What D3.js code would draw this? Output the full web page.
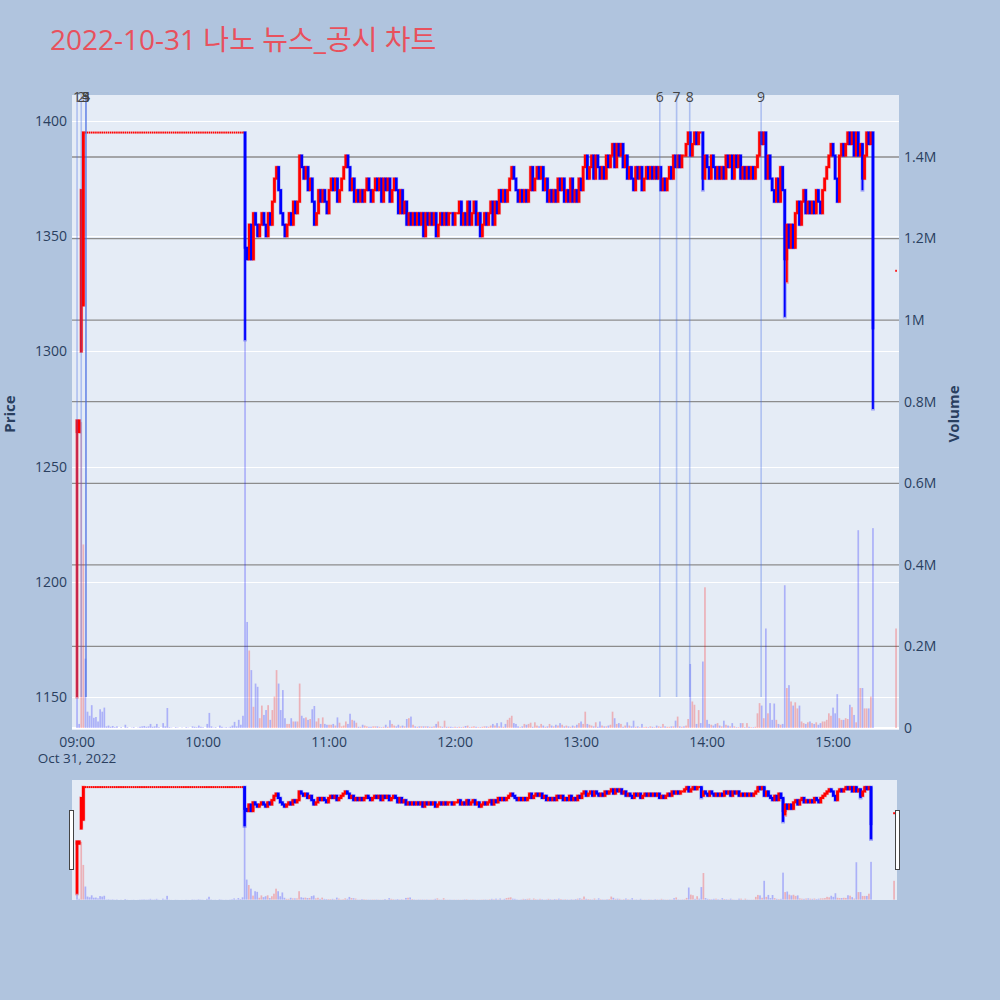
<!DOCTYPE html>
<html><head><meta charset="utf-8">
<script src="https://cdn.jsdelivr.net/npm/d3@7"></script>
<style>
body{margin:0;background:#b0c4de;}
svg{display:block;font-family:"Open Sans","Noto Sans CJK KR",sans-serif;}
</style>
</head><body>
<svg id="chart" width="1000" height="1000"></svg>
<script>
// ---------------- DATA ----------------
const chartTitle = "2022-10-31 나노 뉴스_공시 차트";
const sessionDate = [2022, 9, 31]; // Oct 31, 2022, minute bars from 09:00
// closes per minute (index = minutes after 09:00); null = no trade
const closes = [
1270,1270,1370,1395,
1395,1395,1395,1395,1395,1395,1395,1395,1395,1395,1395,1395,1395,1395,1395,1395,1395,1395,1395,
1395,1395,1395,1395,1395,1395,1395,1395,1395,1395,1395,1395,1395,1395,1395,1395,1395,1395,1395,
1395,1395,1395,1395,1395,1395,1395,1395,1395,1395,1395,1395,1395,1395,1395,1395,1395,1395,1395,
1395,1395,1395,1395,1395,1395,1395,1395,1395,1395,1395,1395,1395,1395,1395,1395,1395,1395,1395,
1345,
1340,1355,1340,1360,1355,1350,1355,1360,1355,1350,
1360,1355,1365,1375,1380,1370,1360,1355,1350,1355,
1360,1355,1365,1360,1365,1385,1380,1375,1380,1370,
1375,1365,1355,1360,1370,1365,1370,1365,1360,1370,
1375,1370,1375,1365,1370,1375,1380,1385,1380,1370,
1375,1365,1370,1365,1370,1365,1370,1375,1370,1365,
1370,1375,1370,1375,1365,1375,1370,1375,1365,1370,
1375,1370,1360,1370,1360,1365,1355,1360,1355,1360,
1355,1360,1355,1360,1350,1360,1355,1360,1355,1360,
1350,1355,1360,1355,1360,1355,1360,1360,1355,1360,
1360,1365,1355,1360,1355,1365,1355,1360,1365,1355,
1360,1350,1355,1360,1355,1360,1365,1355,1365,1360,
1370,1365,1370,1365,1370,1375,1380,1375,1370,1365,
1370,1365,1370,1365,1370,1380,1370,1375,1380,1375,
1380,1370,1375,1365,1370,1365,1370,1365,1375,1370,
1375,1365,1370,1365,1375,1365,1370,1365,1375,1370,
1380,1385,1375,1380,1385,1375,1385,1380,1375,1380,
1375,1385,1380,1385,1390,1380,1390,1385,1390,1380,
1385,1375,1380,1375,1370,1380,1375,1380,1370,1375,
1380,1375,1380,1375,1380,1375,1380,1370,1375,1370,
1375,1380,1375,1385,1380,1385,1380,1385,1385,1390,
1395,1385,1390,1395,1390,1395,1395,1375,1385,1380,
1375,1385,1380,1375,1380,1375,1380,1375,1385,1380,
1385,1375,1385,1380,1385,1375,1380,1375,1380,1375,
1380,1375,1380,1385,1395,1390,1395,1375,1385,1375,
1370,1365,1375,1365,1380,1370,1340,1355,1345,1355,
1345,1360,1365,1355,1365,1370,1360,1365,1360,1365,
1360,1370,1365,1360,1370,1375,1380,1385,1390,1385,
1375,1365,1385,1390,1385,1390,1395,1390,1395,1385,
1395,1385,1390,1375,1385,1395,1390,1395,1310,
null,null,null,null,null,null,null,null,null,null,
1335
];
// opens that differ from the previous close
const openOverrides = {0:1265, 1:1265, 2:1300, 3:1320, 390:1335};
// wick extremes beyond the body
const lowOverrides = {0:1150, 80:1305, 298:1370, 337:1315, 338:1330, 374:1370, 379:1275};
const highOverrides = {};
// volume per minute, millions of shares
const volumes = [
0.65,0.01,0.75,0.45,0.17,0.04,0.03,0.056,0.025,0.027,
0.016,0.046,0.04,0.05,0.004,0.006,0.003,0.005,0.002,0.004,
0,0.002,0,0.008,0.002,0,0.001,0.002,0,0.001,
0.003,0.004,0.005,0.003,0.004,0.01,0.003,0.004,0.01,0.002,
0,0.012,0.004,0.049,0.002,0.001,0,0.002,0.001,0,
0.001,0,0.002,0.001,0,0.004,0.003,0.002,0.006,0.003,
0.002,0,0.01,0.037,0.004,0.001,0.002,0,0.006,0.003,
0.001,0.002,0.001,0.003,0.006,0.015,0.004,0.02,0.008,0.03,
1.35,0.26,0.19,0.142,0.052,0.109,0.101,0.024,0.055,0.032,
0.044,0.056,0.02,0.044,0.077,0.142,0.109,0.044,0.093,0.024,
0.01,0.01,0.024,0.016,0.016,0.016,0.109,0.03,0.024,0.026,
0.02,0.022,0.046,0.054,0.016,0.024,0.01,0.026,0.01,0.008,
0.008,0.008,0.01,0.006,0.026,0.013,0.004,0.006,0.016,0.01,
0.035,0.02,0.018,0.013,0.003,0.003,0.008,0.006,0.004,0.003,
0.003,0.004,0.004,0.004,0.003,0.002,0.003,0.008,0.003,0.019,
0.01,0.006,0.004,0.008,0.004,0.006,0.004,0.022,0.024,0.028,
0.008,0.004,0.003,0.004,0.004,0.004,0.004,0.004,0.003,0.003,
0.004,0.01,0.016,0.004,0.003,0.018,0.003,0.003,0.003,0.002,
0.003,0.002,0.003,0.002,0.003,0.005,0.006,0.002,0.003,0.004,
0.003,0.002,0.002,0.003,0.004,0.004,0.003,0.006,0.01,0.006,
0.012,0.004,0.014,0.003,0.01,0.02,0.025,0.03,0.012,0.01,
0.004,0.002,0.004,0.01,0.008,0.01,0.013,0.003,0.014,0.006,
0.004,0.01,0.006,0.003,0.004,0.01,0.006,0.004,0.008,0.006,
0.012,0.008,0.004,0.006,0.004,0.003,0.006,0.004,0.008,0.012,
0.016,0.01,0.04,0.01,0.008,0.006,0.004,0.014,0.003,0.016,
0.006,0.004,0.004,0.006,0.008,0.04,0.024,0.01,0.012,0.01,
0.003,0.006,0.014,0.006,0.004,0.018,0.003,0.004,0.002,0.01,
0.002,0.003,0.002,0.004,0.003,0.002,0.006,0.004,0.003,0.01,
0.004,0.003,0.003,0.004,0.004,0.018,0.028,0.004,0.003,0.004,
0.006,0.022,0.157,0.065,0.057,0.01,0.044,0.012,0.163,0.345,
0.02,0.01,0.008,0.006,0.01,0.012,0.006,0.004,0.018,0.008,
0.006,0.004,0.012,0.004,0.002,0.002,0.012,0.012,0.002,0.012,
0.003,0.002,0.002,0.003,0.036,0.061,0.055,0.024,0.244,0.036,
0.061,0.02,0.06,0.02,0.01,0.008,0.01,0.35,0.098,0.105,
0.065,0.055,0.063,0.048,0.055,0.016,0.012,0.01,0.014,0.016,
0.012,0.01,0.014,0.008,0.012,0.016,0.016,0.02,0.036,0.03,
0.05,0.036,0.083,0.024,0.02,0.02,0.024,0.022,0.057,0.051,
0.032,0.014,0.485,0.098,0.098,0.048,0.048,0.048,0.077,0.49,
null,null,null,null,null,null,null,null,null,null,
0.244
];
const priceTicks = [1150,1200,1250,1300,1350,1400];
const volumeTicks = [0,0.2,0.4,0.6,0.8,1.0,1.2,1.4];
const volumeTickLabels = ["0","0.2M","0.4M","0.6M","0.8M","1M","1.2M","1.4M"];
const timeTickLabels = ["09:00","10:00","11:00","12:00","13:00","14:00","15:00"];
const eventLabels = ["1","2","3","4","5","6","7","8","9"];
const eventTimes = ["09:00:00","09:02:00","09:04:15","09:04:15","09:04:15","13:37:30","13:45:30","13:51:45","14:25:45"];
const eventLineBottom = 1150;

// ---------------- HELPERS ----------------
function minuteDate(m){ return new Date(sessionDate[0], sessionDate[1], sessionDate[2], 9, 0, 0, Math.round(m*60000)); }
function clockDate(s){ const p = s.split(":").map(Number); return new Date(sessionDate[0], sessionDate[1], sessionDate[2], p[0], p[1], p[2]||0); }

// build candles
const candles = [];
let prevClose = null, prevDir = 1;
closes.forEach((c, i) => {
  if (c == null) return;
  const o = (i in openOverrides) ? openOverrides[i] : (prevClose == null ? c : prevClose);
  const h = (i in highOverrides) ? highOverrides[i] : Math.max(o, c);
  const l = (i in lowOverrides) ? lowOverrides[i] : Math.min(o, c);
  let dir;
  if (c > o) dir = 1; else if (c < o) dir = -1;
  else if (prevClose != null && c > prevClose) dir = 1;
  else if (prevClose != null && c < prevClose) dir = -1;
  else dir = prevDir;
  const volDir = (prevClose != null && c > prevClose) ? 1 : -1;
  candles.push({i, t: minuteDate(i), o, h, l, c, dir, doji: o === c && h === l, vol: volumes[i], volDir});
  prevClose = c; prevDir = dir;
});

// ---------------- LAYOUT ----------------
const svg = d3.select("#chart");
const P = {l:72, r:899, t:95, b:730};
const S = {l:72, r:897, t:780, b:900};
const INC = "#ff0000", DEC = "#0000ff";
const priceDomain = [1135.7, 1411.3];
const volDomain = [-0.0049, 1.552];
const timeDomain = [minuteDate(-2.4), minuteDate(391.4)];

const x = d3.scaleTime().domain(timeDomain).range([P.l, P.r]);
const y = d3.scaleLinear().domain(priceDomain).range([P.b, P.t]);
const yv = d3.scaleLinear().domain(volDomain).range([P.b, P.t]);
const xs = d3.scaleTime().domain(timeDomain).range([S.l, S.r]);
const ys = d3.scaleLinear().domain(priceDomain).range([S.b, S.t]);
const yvs = d3.scaleLinear().domain(volDomain).range([S.b, S.t]);

svg.append("rect").attr("width",1000).attr("height",1000).attr("fill","#b0c4de");

// title
svg.append("text").attr("x",50).attr("y",50).attr("font-size",28)
  .attr("fill","#e8515d").text(chartTitle);

const defs = svg.append("defs");
defs.append("clipPath").attr("id","clipMain").append("rect")
  .attr("x",P.l).attr("y",P.t).attr("width",P.r-P.l).attr("height",P.b-P.t);
defs.append("clipPath").attr("id","clipSlider").append("rect")
  .attr("x",S.l).attr("y",S.t).attr("width",S.r-S.l).attr("height",S.b-S.t);

// main plot background
svg.append("rect").attr("x",P.l).attr("y",P.t).attr("width",P.r-P.l).attr("height",P.b-P.t).attr("fill","#e5ecf6");

// price grid (white)
const gGrid = svg.append("g");
gGrid.selectAll("line.pg").data(priceTicks).join("line")
  .attr("x1",P.l).attr("x2",P.r).attr("y1",d=>Math.round(y(d))+0.5).attr("y2",d=>Math.round(y(d))+0.5)
  .attr("stroke","#ffffff").attr("stroke-width",1);
// volume grid (gray) + zeroline
gGrid.selectAll("line.vg").data(volumeTicks.filter(d=>d>0)).join("line")
  .attr("x1",P.l).attr("x2",P.r).attr("y1",d=>yv(d)).attr("y2",d=>yv(d))
  .attr("stroke","#8c8c8c").attr("stroke-width",1.3);
gGrid.append("line").attr("x1",P.l).attr("x2",P.r).attr("y1",yv(0)).attr("y2",yv(0))
  .attr("stroke","#ffffff").attr("stroke-width",2);

function drawSeries(g, xsc, ysc, yvsc, bodyW, dojiW, wickW, haloW, barW){
  // volume bars
  g.append("g").selectAll("rect").data(candles.filter(d=>d.vol!=null && d.vol>0)).join("rect")
    .attr("x",d=>xsc(d.t)-barW/2).attr("width",barW)
    .attr("y",d=>yvsc(d.vol)).attr("height",d=>Math.max(0,yvsc(0)-yvsc(d.vol)))
    .attr("fill",d=>d.volDir>0?INC:DEC).attr("fill-opacity",0.25);
  const col = d=>d.dir>0?INC:DEC;
  // soft halo
  const hg = g.append("g").attr("opacity",0.3);
  hg.selectAll("rect").data(candles.filter(d=>!d.doji)).join("rect")
    .attr("x",d=>xsc(d.t)-haloW/2).attr("width",haloW)
    .attr("y",d=>ysc(d.h)-1.5).attr("height",d=>ysc(d.l)-ysc(d.h)+3)
    .attr("fill",col);
  // wicks + bodies
  const cg = g.append("g");
  cg.selectAll("line").data(candles).join("line")
    .attr("x1",d=>xsc(d.t)).attr("x2",d=>xsc(d.t))
    .attr("y1",d=>ysc(d.h)).attr("y2",d=>ysc(d.l))
    .attr("stroke",col).attr("stroke-width",wickW);
  cg.selectAll("rect").data(candles).join("rect")
    .attr("x",d=>xsc(d.t)-(d.doji?dojiW:bodyW)/2).attr("width",d=>d.doji?dojiW:bodyW)
    .attr("y",d=>ysc(Math.max(d.o,d.c))-1)
    .attr("height",d=>Math.abs(ysc(d.o)-ysc(d.c))+2)
    .attr("fill",col);
}

const gMain = svg.append("g").attr("clip-path","url(#clipMain)");
drawSeries(gMain, x, y, yv, 2.6, 1.6, 1.8, 3.8, 1.7);

// event vertical lines
const events = eventLabels.map((lab,k)=>({lab, t: clockDate(eventTimes[k])}));
gMain.append("g").selectAll("line").data(events).join("line")
  .attr("x1",d=>x(d.t)).attr("x2",d=>x(d.t)).attr("y1",P.t).attr("y2",y(eventLineBottom))
  .attr("stroke","rgb(70,110,230)").attr("stroke-opacity",0.35).attr("stroke-width",1.6);
svg.append("g").selectAll("text").data(events).join("text")
  .attr("x",d=>x(d.t)).attr("y",102).attr("text-anchor","middle")
  .attr("font-size",14).attr("fill","#444").text(d=>d.lab);

// axes labels
const tickFont = 14, tickColor = "#2a3f5f";
svg.append("g").selectAll("text").data(priceTicks).join("text")
  .attr("x",67).attr("y",d=>y(d)).attr("dy","0.35em").attr("text-anchor","end")
  .attr("font-size",tickFont).attr("fill",tickColor).text(d=>d);
svg.append("g").selectAll("text").data(volumeTicks).join("text")
  .attr("x",904).attr("y",d=>yv(d)).attr("dy","0.35em").attr("text-anchor","start")
  .attr("font-size",tickFont).attr("fill",tickColor).text((d,k)=>volumeTickLabels[k]);
svg.append("g").selectAll("text").data(timeTickLabels).join("text")
  .attr("x",d=>x(clockDate(d))).attr("y",747).attr("text-anchor","middle")
  .attr("font-size",tickFont).attr("fill",tickColor).text(d=>d);
svg.append("text").attr("x",x(clockDate(timeTickLabels[0]))).attr("y",763).attr("text-anchor","middle")
  .attr("font-size",13.5).attr("fill",tickColor).text(d3.timeFormat("%b %-d, %Y")(minuteDate(0)));

svg.append("text").attr("transform","translate(15,414) rotate(-90)").attr("text-anchor","middle")
  .attr("font-size",15).attr("font-weight","bold").attr("fill",tickColor).text("Price");
svg.append("text").attr("transform","translate(959,414) rotate(-90)").attr("text-anchor","middle")
  .attr("font-size",15).attr("font-weight","bold").attr("fill",tickColor).text("Volume");

// range slider
svg.append("rect").attr("x",S.l).attr("y",S.t).attr("width",S.r-S.l).attr("height",S.b-S.t).attr("fill","#e5ecf6");
const gSl = svg.append("g").attr("clip-path","url(#clipSlider)");
drawSeries(gSl, xs, ys, yvs, 2.6, 1.8, 2.4, 4, 1.7);
[S.l-3, S.r-2].forEach(hx=>{
  svg.append("rect").attr("x",hx+0.5).attr("y",810.5).attr("width",4).attr("height",59)
    .attr("fill","#ffffff").attr("stroke","#444").attr("stroke-width",1);
});
</script>
</body></html>
